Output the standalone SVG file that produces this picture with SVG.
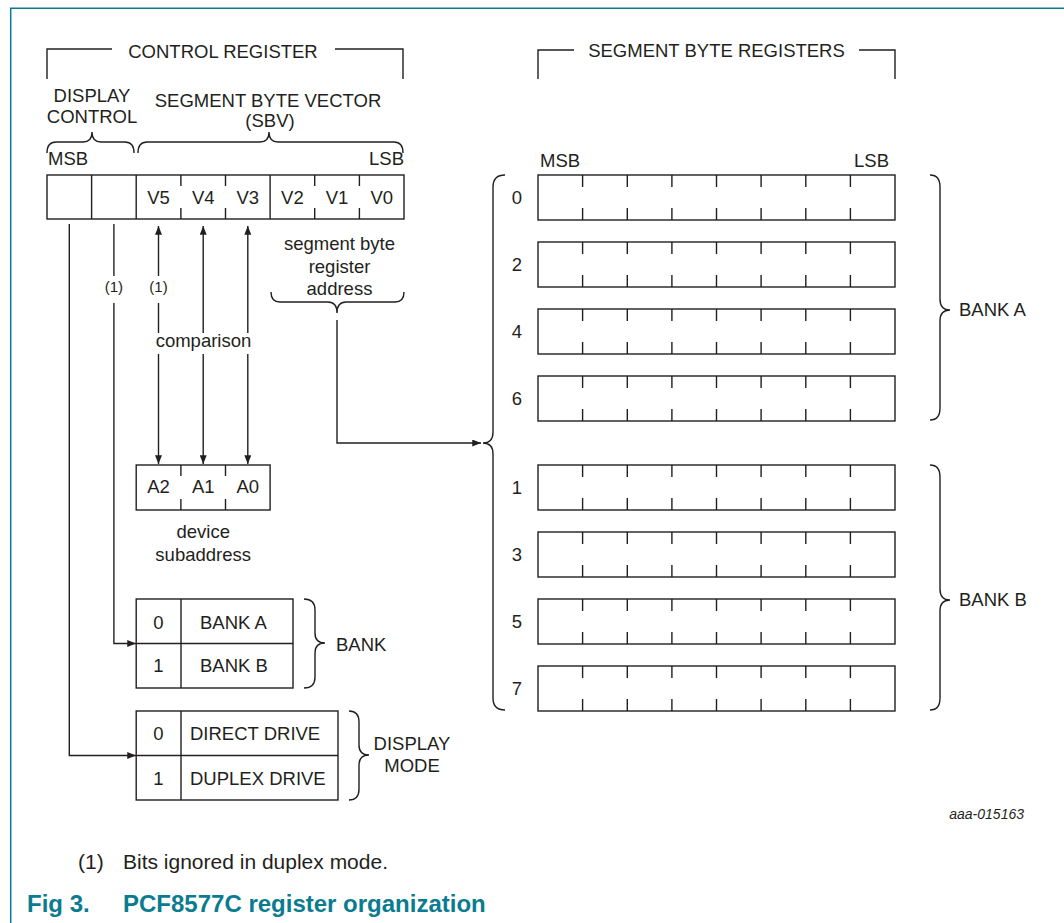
<svg xmlns="http://www.w3.org/2000/svg" xmlns:xlink="http://www.w3.org/1999/xlink" width="1064" height="923" viewBox="0 0 1064 923">
<style>
.ln{fill:none;stroke:#231f20;stroke-width:1.4}
.bx{fill:#fff;stroke:#231f20;stroke-width:1.4}
.t{font-family:"Liberation Sans",Arial,sans-serif;font-size:18.5px;fill:#231f20}
.m{text-anchor:middle}
.e{text-anchor:end}
.s{font-size:15px}
.cap{font-family:"Liberation Sans",Arial,sans-serif;font-weight:bold;font-size:24px;fill:#0b7c90}
.ft{font-family:"Liberation Sans",Arial,sans-serif;font-size:21px;fill:#231f20}
.id{font-family:"Liberation Sans",Arial,sans-serif;font-size:14px;font-style:italic;fill:#231f20}
</style>
<defs>
<marker id="ah" viewBox="0 0 10 8" refX="10" refY="4" markerWidth="9" markerHeight="7" markerUnits="userSpaceOnUse" orient="auto">
<path d="M0,0 L10,4 L0,8 z" fill="#231f20"/>
</marker>
<g id="reg">
<rect class="bx" x="0" y="0" width="357" height="45"/>
<path class="ln" d="M44.6 0v12M89.3 0v12M133.9 0v12M178.5 0v12M223.1 0v12M267.8 0v12M312.4 0v12M44.6 33v12M89.3 33v12M133.9 33v12M178.5 33v12M223.1 33v12M267.8 33v12M312.4 33v12"/>
</g>
</defs>
<rect x="0" y="0" width="1064" height="923" fill="#fff"/>
<g id="frame">
<path d="M10.7 923V8.3H1064" fill="none" stroke="#0b7c90" stroke-width="1.5"/>
</g>

<g id="control-register-label">
<path class="ln" d="M47 79V49H112M335 49H403V79"/>
<text class="t m" x="223" y="58">CONTROL REGISTER</text>
</g>
<g id="display-control-label">
<text class="t m" x="92" y="102">DISPLAY</text>
<text class="t m" x="92" y="123">CONTROL</text>
<path class="ln" d="M47 153Q47 142 56 142L83 142Q92 142 92 132Q92 142 101 142L125 142Q134 142 134 153"/>
</g>
<g id="sbv-label">
<text class="t m" x="268" y="107">SEGMENT BYTE VECTOR</text>
<text class="t m" x="270" y="127">(SBV)</text>
<path class="ln" d="M138 153Q138 142 147 142L260 142Q269 142 269 132Q269 142 278 142L394 142Q403 142 403 153"/>
</g>
<g id="control-register">
<text class="t" x="48" y="165">MSB</text>
<text class="t e" x="404" y="165">LSB</text>
<rect class="bx" x="47" y="175" width="357" height="44"/>
<path class="ln" d="M91.6 175V219M136.2 175V219M270.1 175V219M180.9 175v11M225.5 175v11M314.7 175v11M359.4 175v11M180.9 208v11M225.5 208v11M314.7 208v11M359.4 208v11"/>
<text class="t m" x="158.5" y="204">V5</text>
<text class="t m" x="203.2" y="204">V4</text>
<text class="t m" x="247.8" y="204">V3</text>
<text class="t m" x="292.4" y="204">V2</text>
<text class="t m" x="337" y="204">V1</text>
<text class="t m" x="381.7" y="204">V0</text>
</g>
<g id="sbr-address-label">
<text class="t m" x="339.5" y="250">segment byte</text>
<text class="t m" x="339.5" y="273">register</text>
<text class="t m" x="339.5" y="295">address</text>
<path class="ln" d="M271 292Q271 302 280 302L328 302Q337 302 337 313Q337 302 346 302L395 302Q404 302 404 292"/>
</g>
<g id="device-subaddress">
<rect class="bx" x="136.2" y="465" width="133.9" height="45"/>
<path class="ln" d="M180.9 465v11M225.5 465v11M180.9 499v11M225.5 499v11"/>
<text class="t m" x="158.5" y="493">A2</text>
<text class="t m" x="203.2" y="493">A1</text>
<text class="t m" x="247.8" y="493">A0</text>
<text class="t m" x="203.2" y="538">device</text>
<text class="t m" x="203.2" y="561">subaddress</text>
</g>
<g id="bank-table">
<rect class="bx" x="136.2" y="599" width="156.8" height="89"/>
<path class="ln" d="M136.2 643.5H293M181 599V688"/>
<text class="t m" x="158.5" y="629">0</text>
<text class="t" x="200" y="629">BANK A</text>
<text class="t m" x="158.5" y="672">1</text>
<text class="t" x="200" y="672">BANK B</text>
<path class="ln" d="M304 599Q315 599 315 610L315 633Q315 643 325 643Q315 643 315 653L315 677Q315 688 304 688"/>
<text class="t" x="336" y="651">BANK</text>
</g>
<g id="display-mode-table">
<rect class="bx" x="136.2" y="711" width="201.8" height="89"/>
<path class="ln" d="M136.2 755.5H338M181 711V800"/>
<text class="t m" x="158.5" y="740">0</text>
<text class="t" x="190" y="740">DIRECT DRIVE</text>
<text class="t m" x="158.5" y="785">1</text>
<text class="t" x="190" y="785">DUPLEX DRIVE</text>
<path class="ln" d="M349 711Q359 711 359 722L359 745Q359 755 369 755Q359 755 359 765L359 789Q359 800 349 800"/>
<text class="t m" x="412" y="750">DISPLAY</text>
<text class="t m" x="412" y="772">MODE</text>
</g>

<g id="connectors">
<path class="ln" d="M69.3 224V755.5H136" marker-end="url(#ah)"/>
<path class="ln" d="M113.9 224V276"/>
<path class="ln" d="M113.9 303V643.5H136" marker-end="url(#ah)"/>
<text class="t m s" x="113.9" y="292">(1)</text>
<path class="ln" d="M158.5 276V226" marker-end="url(#ah)"/>
<text class="t m s" x="158.5" y="292">(1)</text>
<path class="ln" d="M158.5 303V333"/>
<path class="ln" d="M158.5 354V464" marker-end="url(#ah)"/>
<path class="ln" d="M203.2 333V226" marker-end="url(#ah)"/>
<path class="ln" d="M203.2 354V464" marker-end="url(#ah)"/>
<path class="ln" d="M247.8 333V226" marker-end="url(#ah)"/>
<path class="ln" d="M247.8 354V464" marker-end="url(#ah)"/>
<text class="t m" x="203.5" y="347">comparison</text>
<path class="ln" d="M337 320V443H481" marker-end="url(#ah)"/>
</g>

<g id="segment-byte-registers-label">
<path class="ln" d="M538 79V50H574M859 50H895V79"/>
<text class="t m" x="716.5" y="57">SEGMENT BYTE REGISTERS</text>
<text class="t" x="540" y="167">MSB</text>
<text class="t e" x="889" y="167">LSB</text>
<path class="ln" d="M505 175Q493 175 493 187L493 432Q493 443 483 443Q493 443 493 454L493 698Q493 710 505 710"/>
</g>
<g id="reg-0"><use xlink:href="#reg" x="538" y="175"/><text class="t m" x="517" y="204">0</text></g>
<g id="reg-2"><use xlink:href="#reg" x="538" y="242"/><text class="t m" x="517" y="271">2</text></g>
<g id="reg-4"><use xlink:href="#reg" x="538" y="309"/><text class="t m" x="517" y="338">4</text></g>
<g id="reg-6"><use xlink:href="#reg" x="538" y="376"/><text class="t m" x="517" y="405">6</text></g>
<g id="reg-1"><use xlink:href="#reg" x="538" y="465"/><text class="t m" x="517" y="494">1</text></g>
<g id="reg-3"><use xlink:href="#reg" x="538" y="532"/><text class="t m" x="517" y="561">3</text></g>
<g id="reg-5"><use xlink:href="#reg" x="538" y="599"/><text class="t m" x="517" y="628">5</text></g>
<g id="reg-7"><use xlink:href="#reg" x="538" y="666"/><text class="t m" x="517" y="695">7</text></g>
<g id="bank-a">
<path class="ln" d="M930 175Q940 175 940 187L940 299Q940 310 950 310Q940 310 940 321L940 408Q940 420 930 420"/>
<text class="t" x="959" y="316">BANK A</text>
</g>
<g id="bank-b">
<path class="ln" d="M930 465Q940 465 940 477L940 589Q940 600 950 600Q940 600 940 611L940 698Q940 710 930 710"/>
<text class="t" x="959" y="606">BANK B</text>
</g>

<g id="footer">
<text class="id e" x="1024" y="819">aaa-015163</text>
<text class="ft" x="78" y="869">(1)</text>
<text class="ft" x="123" y="869">Bits ignored in duplex mode.</text>
<text class="cap" x="27" y="912">Fig 3.</text>
<text class="cap" x="123" y="912">PCF8577C register organization</text>
</g>
</svg>
